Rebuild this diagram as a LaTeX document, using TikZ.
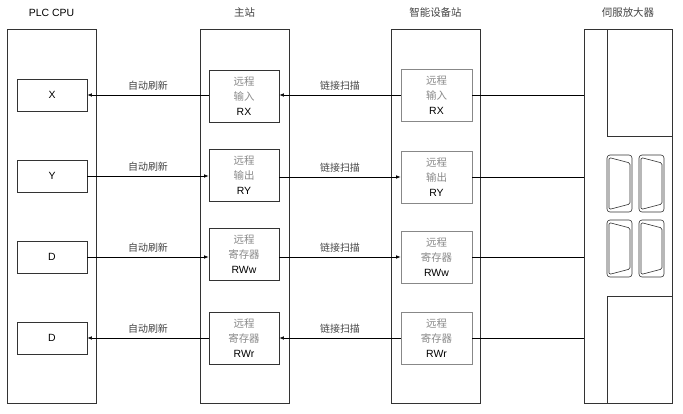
\documentclass[tikz,border=0pt]{standalone}
\usepackage{fontspec}
\setmainfont{Liberation Sans}
\newfontfamily\cjk{Noto Sans CJK SC}
\usetikzlibrary{arrows.meta}
\definecolor{edgedark}{HTML}{333333}
\definecolor{edgegray}{HTML}{888888}
\definecolor{textgray}{HTML}{8A8A8A}
\definecolor{labgray}{HTML}{444444}
\newcommand{\gz}[1]{\textcolor{textgray}{\cjk #1}}
\begin{document}
\begin{tikzpicture}[x=1bp,y=-1bp,
  font=\fontsize{10.5}{15}\selectfont,
  outerbox/.style={draw=edgedark, line width=0.8bp, minimum width=89bp, minimum height=374bp, inner sep=0},
  plcbox/.style={draw=edgedark, line width=0.7bp, minimum width=70bp, minimum height=32bp, inner sep=0},
  regbox/.style={draw=edgedark, line width=0.7bp, minimum width=70bp, minimum height=52bp, inner sep=0, align=center},
  devbox/.style={draw=edgegray, line width=0.7bp, minimum width=71bp, minimum height=52bp, inner sep=0, align=center},
  header/.style={text=black},
  conn/.style={draw=black, line width=0.6bp},
  arr/.style={conn, -{Latex[length=4.5bp,width=3.5bp]}},
  lab/.style={above, inner sep=4bp, text=labgray, font=\cjk\fontsize{10}{12}\selectfont},
  dsub/.style={draw=edgedark, line width=0.6bp}
]
\useasboundingbox (0,0) rectangle (683,413);
\fill[white] (0,0) rectangle (683,413);

% outer station boxes
\node[outerbox] (plc) at (51.5,216) {};
\node[outerbox] (ms) at (244.5,216) {};
\node[outerbox] (ds) at (435.5,216) {};
\node[outerbox, minimum width=88bp] (servo) at (628,216) {};

% headers
\node[header] (hplc) at (51.5,13) {PLC CPU};
\node[header, text=labgray] (hms) at (244.5,13) {\cjk 主站};
\node[header, text=labgray] (hds) at (435.5,13) {\cjk 智能设备站};
\node[header, text=labgray] (hsv) at (628,13) {\cjk 伺服放大器};

% PLC boxes
\node[plcbox] (px) at (52,95) {X};
\node[plcbox] (py) at (52,176) {Y};
\node[plcbox] (pd1) at (52,257) {D};
\node[plcbox] (pd2) at (52,338) {D};

% master station registers
\node[regbox] (mrx) at (244,96) {\gz{远程}\\\gz{输入}\\RX};
\node[regbox] (mry) at (244,175) {\gz{远程}\\\gz{输出}\\RY};
\node[regbox] (mrww) at (244,254) {\gz{远程}\\\gz{寄存器}\\RWw};
\node[regbox] (mrwr) at (244,338) {\gz{远程}\\\gz{寄存器}\\RWr};

% device station registers
\node[devbox] (drx) at (436.5,95) {\gz{远程}\\\gz{输入}\\RX};
\node[devbox] (dry) at (436.5,177) {\gz{远程}\\\gz{输出}\\RY};
\node[devbox] (drww) at (436.5,257) {\gz{远程}\\\gz{寄存器}\\RWw};
\node[devbox] (drwr) at (436.5,338) {\gz{远程}\\\gz{寄存器}\\RWr};

% auto refresh arrows
\draw[arr] (mrx.west |- px.east) -- node[lab]{自动刷新} (px.east);
\draw[arr] (py.east) -- node[lab]{自动刷新} (py.east -| mry.west);
\draw[arr] (pd1.east) -- node[lab]{自动刷新} (pd1.east -| mrww.west);
\draw[arr] (mrwr.west |- pd2.east) -- node[lab]{自动刷新} (pd2.east);

% link scan arrows
\draw[arr] (drx.west) -- node[lab]{链接扫描} (drx.west -| mrx.east);
\draw[arr] (mry.east |- dry.west) -- node[lab]{链接扫描} (dry.west);
\draw[arr] (mrww.east |- drww.west) -- node[lab]{链接扫描} (drww.west);
\draw[arr] (drwr.west) -- node[lab]{链接扫描} (drwr.west -| mrwr.east);

% lines to servo amplifier
\draw[conn] (drx.east) -- (drx.east -| servo.west);
\draw[conn] (dry.east) -- (dry.east -| servo.west);
\draw[conn] (drww.east) -- (drww.east -| servo.west);
\draw[conn] (drwr.east) -- (drwr.east -| servo.west);

% servo amplifier details
\draw[draw=edgedark, line width=0.8bp] (607,29) rectangle (672,136);
\draw[draw=edgedark, line width=0.8bp] (672,296) -- (607,296) -- (607,403);
\foreach \cx/\cy in {607/155, 639/155, 607/220, 639/220}{
  \draw[dsub, rounded corners=3bp] (\cx,\cy) rectangle ++(25,57);
  \draw[dsub, rounded corners=1.5bp] (\cx+2,\cy+2.5) -- (\cx+23,\cy+8) -- (\cx+23,\cy+49) -- (\cx+2,\cy+54.5) -- cycle;
}
\end{tikzpicture}
\end{document}
